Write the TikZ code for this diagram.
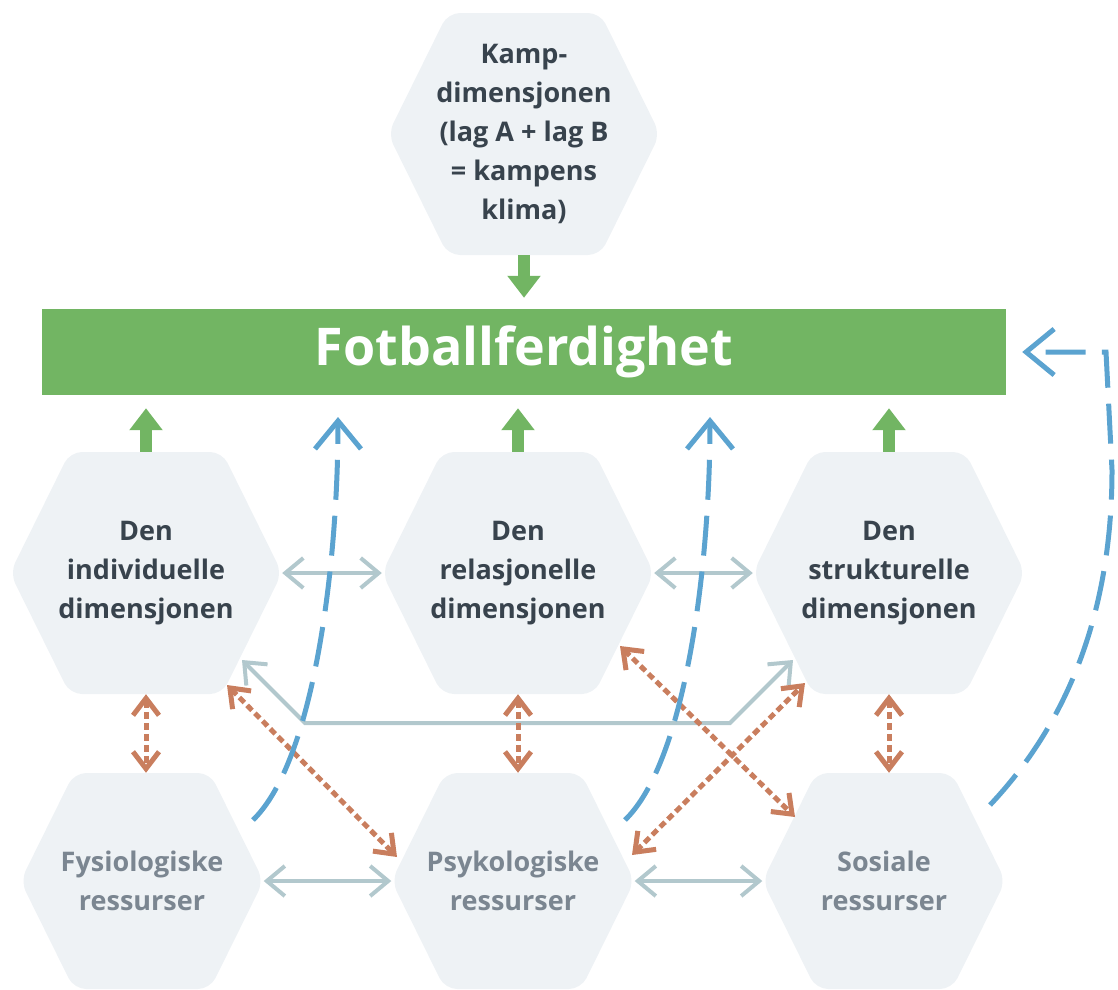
\documentclass[tikz,border=0pt]{standalone}
\usepackage{fontspec}
\setmainfont{Open Sans}
\usetikzlibrary{arrows.meta,calc}
\definecolor{hexfill}{HTML}{EEF2F5}
\definecolor{skillgreen}{HTML}{72B563}
\definecolor{feedblue}{HTML}{5BA3D0}
\definecolor{linkgray}{HTML}{B2C8CD}
\definecolor{mutualbrown}{HTML}{C97E5E}
\definecolor{darktext}{HTML}{38434D}
\definecolor{lighttext}{HTML}{7B8691}
\tikzstyle{hexa} = [minimum width=272pt, minimum height=242pt, inner sep=0pt, align=center,
	text=darktext, font=\fontsize{27}{39}\selectfont\bfseries,
	path picture={\fill[hexfill, rounded corners=12pt]
		(path picture bounding box.west)
		-- ($(path picture bounding box.north west)!0.22!(path picture bounding box.north east)$)
		-- ($(path picture bounding box.north east)!0.22!(path picture bounding box.north west)$)
		-- (path picture bounding box.east)
		-- ($(path picture bounding box.south east)!0.22!(path picture bounding box.south west)$)
		-- ($(path picture bounding box.south west)!0.22!(path picture bounding box.south east)$)
		-- cycle;}]
\tikzstyle{hexs} = [hexa, minimum width=243pt, minimum height=216pt, text=lighttext]
\tikzstyle{skillbar} = [fill=skillgreen, minimum width=964pt, minimum height=86pt, text=white,
	font=\fontsize{52}{60}\selectfont\bfseries]
\tikzstyle{lift} = [line width=12pt, skillgreen, -{Triangle[width=32pt,length=22pt]}]
\tikzstyle{link} = [line width=4pt, linkgray,
	{Straight Barb[width=30pt,length=18pt]}-{Straight Barb[width=30pt,length=18pt]}]
\tikzstyle{mutual} = [line width=5pt, mutualbrown, dash pattern=on 7pt off 4pt,
	{Straight Barb[width=26pt,length=17pt]}-{Straight Barb[width=26pt,length=17pt]}]
\tikzstyle{feed} = [line width=5pt, feedblue, dash pattern=on 40pt off 16pt,
	-{Straight Barb[width=46pt,length=28pt]}]

\begin{document}
\begin{tikzpicture}[x=1pt,y=-1pt]
	\useasboundingbox (0,0) rectangle (1118,989);

	% hexagons and the bar
	\node [hexa] (kamp) at (524,134) {Kamp-\\dimensjonen\\(lag A + lag B\\= kampens\\klima)};
	\node [skillbar] (ferdig) at (524,352) {Fotballferdighet};
	\node [hexa] (ind) at (146,573) {Den\\individuelle\\dimensjonen};
	\node [hexa] (rel) at (518,573) {Den\\relasjonelle\\dimensjonen};
	\node [hexa] (str) at (889,573) {Den\\strukturelle\\dimensjonen};
	\node [hexs] (fys) at (142,881) {Fysiologiske\\ressurser};
	\node [hexs] (psy) at (513,881) {Psykologiske\\ressurser};
	\node [hexs] (sos) at (884,881) {Sosiale\\ressurser};

	% green arrows into the bar
	\draw [lift, shorten >=11pt] (kamp.south) -- (kamp.south |- ferdig.north);
	\draw [lift, shorten >=13pt] (ind.north) -- (ind.north |- ferdig.south);
	\draw [lift, shorten >=13pt] (rel.north) -- (rel.north |- ferdig.south);
	\draw [lift, shorten >=13pt] (str.north) -- (str.north |- ferdig.south);

	% gray links
	\draw [link] (ind.east) -- (rel.west);
	\draw [link] (rel.east) -- (str.west);
	\draw [link] (fys.east) -- (psy.west);
	\draw [link] (psy.east) -- (sos.west);
	\coordinate (g1) at ($(ind)+(96,87)$);
	\coordinate (g2) at ($(str)+(-96,87)$);
	\draw [link] (g1) -- ++(63,63) -- ($(g2)+(-63,63)$) -- (g2);

	% brown links
	\draw [mutual] (ind.south) -- (ind.south |- fys.north);
	\draw [mutual] (rel.south) -- (rel.south |- psy.north);
	\draw [mutual] (str.south) -- (str.south |- sos.north);
	\draw [mutual] ($(ind)+(81,112)$) -- ($(psy)+(-116,-24)$);
	\draw [mutual] ($(rel)+(102,73)$) -- ($(sos)+(-89,-64)$);
	\draw [mutual] ($(psy)+(119,-26)$) -- ($(str)+(-84,110)$);

	% blue feedback
	\coordinate (b1) at (338,417);
	\coordinate (b2) at (710,417);
	\coordinate (b3) at ($(ferdig.east)+(16,0)$);
	\draw [feed] ($(fys)+(111,-61)$) .. controls +(62,-60) and +(0,143) .. (b1);
	\draw [feed] ($(psy)+(112,-61)$) .. controls +(62,-60) and +(0,143) .. (b2);
	\draw [feed] ($(sos)+(106,-76)$) .. controls +(85,-90) and +(0,130) .. (1112,470)
		-- (1106,352) -- (b3);

\end{tikzpicture}
\end{document}
